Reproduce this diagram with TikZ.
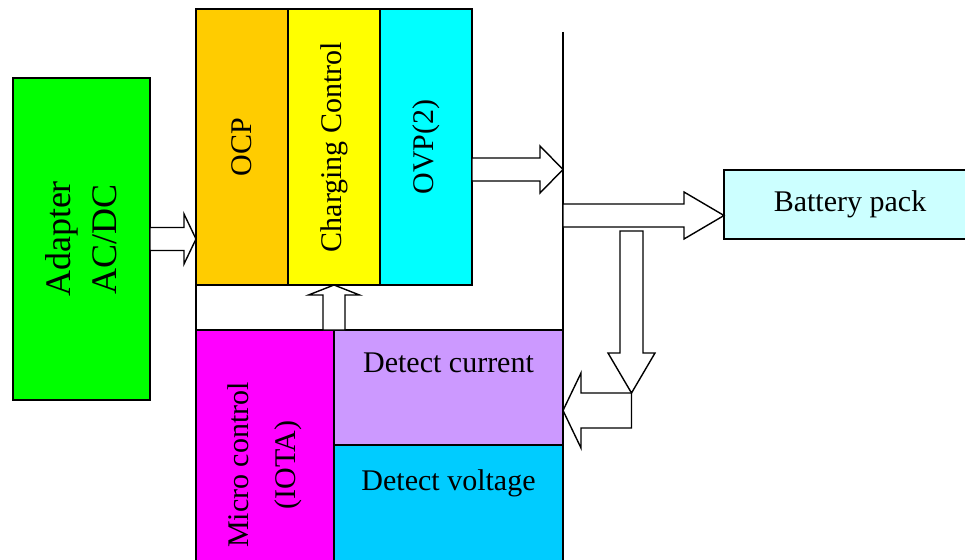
\documentclass[tikz,border=0pt]{standalone}
\usepackage{fontspec}
\setmainfont{Liberation Serif}
\usepackage{tikz}
\usetikzlibrary{calc,positioning}
\definecolor{adaptc}{HTML}{00FF00}
\definecolor{ocpc}{HTML}{FFCC00}
\definecolor{chgc}{HTML}{FFFF00}
\definecolor{ovpc}{HTML}{00FFFF}
\definecolor{microc}{HTML}{FF00FF}
\definecolor{curc}{HTML}{CC99FF}
\definecolor{voltc}{HTML}{00CCFF}
\definecolor{battc}{HTML}{CCFFFF}
\tikzset{
  box/.style={draw,line width=1.4pt,inner sep=0pt,outer sep=0pt},
  blk/.style={draw,line width=1.4pt,fill=white,line join=miter},
  txt/.style={inner sep=0pt,font=\fontsize{30}{47}\selectfont,align=center},
  vtxt/.style={txt,rotate=90},
  bus/.style={line width=1.4pt}
}
% block arrow: from, to, shaft half width, head half width, head length
\newcommand{\blockarr}[5]{%
  \coordinate (hb) at ($(#2)!#5!(#1)$);
  \draw[blk] ($(#1)!#3!90:(#2)$) -- ($(hb)!#3!-90:(#1)$) -- ($(hb)!#4!-90:(#1)$) -- (#2)
    -- ($(hb)!#4!90:(#1)$) -- ($(hb)!#3!90:(#1)$) -- ($(#1)!#3!-90:(#2)$) -- cycle;}

\begin{document}
\begin{tikzpicture}[x=1pt,y=-1pt]
\useasboundingbox (0,0) rectangle (965,559);
\clip (0,0) rectangle (965,559);
% boxes
\node[box,fill=adaptc,minimum width=137pt,minimum height=322pt] (adapter) at (81.5,239) {};
\node[box,fill=ocpc,minimum width=92pt,minimum height=276pt] (ocp) at (242,147) {};
\node[box,fill=chgc,minimum width=92pt,minimum height=276pt,right=0pt of ocp] (chg) {};
\node[box,fill=ovpc,minimum width=92pt,minimum height=276pt,right=0pt of chg] (ovp) {};
\node[box,fill=microc,minimum width=138pt,minimum height=270pt,anchor=north west] (micro) at (196,330) {};
\node[box,fill=curc,minimum width=229pt,minimum height=115pt,anchor=north west] (detcur) at (micro.north east) {};
\node[box,fill=voltc,minimum width=229pt,minimum height=155pt,below=0pt of detcur] (detvol) {};
\node[box,fill=battc,minimum width=252pt,minimum height=69pt,anchor=west,font=\fontsize{30}{36}\selectfont] (battery) at (724,204.5) {Battery pack};
% texts
\node[vtxt,font=\fontsize{36}{46}\selectfont] (adaptert) at (adapter) {Adapter\\AC/DC};
\node[vtxt] (ocpt) at (ocp) {OCP};
\node[vtxt] (chgt) at (chg) {Charging Control};
\node[vtxt] (ovpt) at (ovp) {OVP(2)};
\node[vtxt] (microt) at (micro) {Micro control\\(IOTA)};
\node[txt,below=23pt of detcur.north] (detcurt) {Detect current};
\node[txt,below=24pt of detvol.north] (detvolt) {Detect voltage};
% lines
\coordinate (bustop) at (563,32);
\coordinate (busbot) at (563,600);
\draw[bus] (bustop) -- (busbot);
\draw[bus] (ocp.south west) -- (micro.north west);
% arrows
\coordinate (a1s) at (adapter.east);
\coordinate (a1e) at (a1s -| ocp.west);
\blockarr{a1s}{a1e}{11.5pt}{25pt}{12pt}
\coordinate (a2s) at (micro.north -| chg.south);
\blockarr{a2s}{chg.south}{11pt}{25.5pt}{10pt}
\coordinate (a3s) at ($(ovp.east)+(0,22.5)$);
\coordinate (a3e) at (a3s -| bustop);
\blockarr{a3s}{a3e}{11.5pt}{23.5pt}{23pt}
\coordinate (a4e) at ($(battery.west)+(0,11)$);
\coordinate (a4s) at (a4e -| bustop);
\blockarr{a4s}{a4e}{11.5pt}{23.5pt}{40pt}
\coordinate (tap) at (631.5,231);
\coordinate (bend) at (631.5,393);
\blockarr{tap}{bend}{11.5pt}{23.5pt}{40pt}
\coordinate (fbs) at ($(bend)+(0,17.5)$);
\coordinate (fbe) at (fbs -| detcur.east);
\blockarr{fbs}{fbe}{17.5pt}{37.5pt}{18pt}
\end{tikzpicture}
\end{document}
